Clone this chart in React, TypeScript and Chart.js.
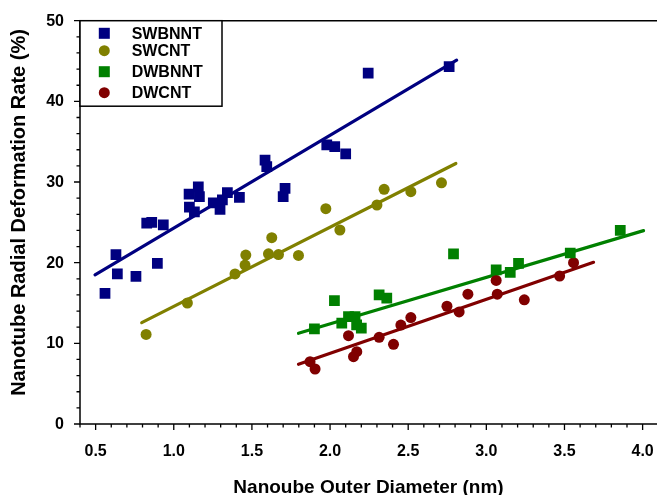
import React, { useEffect, useRef } from "react";
import { Chart, registerables } from "chart.js";

Chart.register(...registerables);

// ---- data ----
const seriesNames = ["SWBNNT", "SWCNT", "DWBNNT", "DWCNT"];
const seriesColors = ["#000080", "#808000", "#008000", "#800000"];
const seriesShapes = ["rect", "circle", "rect", "circle"];

const swbnntX = [0.56, 0.639, 0.63, 0.758, 0.895, 0.827, 0.859, 0.933, 1.098, 1.157, 1.164, 1.1, 1.132, 1.253, 1.296, 1.311, 1.343, 1.42, 1.584, 1.595, 1.712, 1.7, 1.979, 2.03, 2.1, 2.244, 2.762];
const swbnntY = [16.2, 18.6, 21.0, 18.3, 19.9, 24.9, 25.0, 24.7, 28.5, 29.4, 28.2, 26.9, 26.3, 27.4, 26.6, 27.8, 28.7, 28.1, 32.7, 31.9, 29.2, 28.2, 34.6, 34.4, 33.5, 43.5, 44.3];

const swcntX = [0.823, 1.087, 1.392, 1.456, 1.461, 1.606, 1.627, 1.67, 1.798, 1.973, 2.063, 2.3, 2.346, 2.517, 2.713];
const swcntY = [11.1, 15.0, 18.6, 19.7, 20.95, 21.1, 23.1, 21.0, 20.9, 26.7, 24.05, 27.15, 29.1, 28.8, 29.9];

const dwbnntX = [1.9, 2.028, 2.075, 2.118, 2.16, 2.17, 2.2, 2.314, 2.363, 2.79, 3.063, 3.153, 3.206, 3.537, 3.857];
const dwbnntY = [11.8, 15.3, 12.5, 13.3, 13.3, 12.3, 11.9, 16.0, 15.6, 21.1, 19.1, 18.8, 19.9, 21.2, 24.0];

const dwcntX = [1.872, 1.904, 2.118, 2.15, 2.171, 2.314, 2.406, 2.453, 2.517, 2.748, 2.826, 2.882, 3.063, 3.07, 3.243, 3.469, 3.558];
const dwcntY = [7.73, 6.82, 10.95, 8.35, 8.97, 10.75, 9.88, 12.27, 13.2, 14.6, 13.9, 16.1, 17.8, 16.1, 15.4, 18.35, 20.0];

// fitted trend lines (end points)
const fitX = [[0.496, 2.81], [0.795, 2.805], [1.798, 4.006], [1.798, 3.686]];
const fitY = [[18.5, 45.1], [12.56, 32.3], [11.24, 23.97], [7.4, 20.05]];

const xTitle = "Nanoube Outer Diameter (nm)";
const yTitle = "Nanotube Radial Deformation Rate (%)";
const xMin = 0.4, xMax = 4.092, xMinor = 0.1, xMajor = 0.5;
const yMin = 0, yMax = 50, yMinor = 2, yMajor = 10;

const FONT = "Liberation Sans, Arial, sans-serif";

const isMult = (v: number, step: number) => Math.abs(v / step - Math.round(v / step)) < 1e-6;

const framePlugin = {
  id: "frame",
  afterDraw(chart: any) {
    const { ctx, chartArea: a, scales } = chart;
    const xs = scales.x, ys = scales.y;
    ctx.save();
    ctx.strokeStyle = "#000";
    ctx.lineWidth = 1.5;
    ctx.beginPath();
    ctx.moveTo(a.left, a.top);
    ctx.lineTo(a.left, a.bottom);
    ctx.lineTo(a.right, a.bottom);
    ctx.moveTo(a.left, a.top);
    ctx.lineTo(a.right, a.top);
    ctx.stroke();

    ctx.lineWidth = 1.3;
    ctx.beginPath();
    xs.ticks.forEach((t: any) => {
      const px = xs.getPixelForValue(t.value);
      const len = isMult(t.value, xMajor) ? 6 : 3.5;
      ctx.moveTo(px, a.bottom);
      ctx.lineTo(px, a.bottom + len);
    });
    ys.ticks.forEach((t: any) => {
      const py = ys.getPixelForValue(t.value);
      const len = isMult(t.value, yMajor) ? 6 : 3.5;
      ctx.moveTo(a.left, py);
      ctx.lineTo(a.left - len, py);
    });
    ctx.stroke();

    // tick labels
    ctx.fillStyle = "#000";
    ctx.font = `bold 16px ${FONT}`;
    ctx.textBaseline = "middle";
    ctx.textAlign = "center";
    xs.ticks.forEach((t: any) => {
      if (isMult(t.value, xMajor)) ctx.fillText(t.value.toFixed(1), xs.getPixelForValue(t.value), 452);
    });
    ctx.textAlign = "right";
    ys.ticks.forEach((t: any) => {
      if (isMult(t.value, yMajor)) ctx.fillText(String(t.value), 64, ys.getPixelForValue(t.value) + 0.5);
    });

    // axis titles
    ctx.font = `bold 19px ${FONT}`;
    ctx.textAlign = "center";
    ctx.fillText(xTitle, (a.left + a.right) / 2, 488);
    ctx.save();
    ctx.font = `bold 20px ${FONT}`;
    ctx.translate(19, 212.5);
    ctx.rotate(-Math.PI / 2);
    ctx.fillText(yTitle, 0, 0);
    ctx.restore();

    // legend
    const bx = a.left, by = a.top, bw = 142, bh = 85.5;
    ctx.fillStyle = "#fff";
    ctx.fillRect(bx, by, bw, bh);
    ctx.strokeStyle = "#000";
    ctx.lineWidth = 1.5;
    ctx.strokeRect(bx, by, bw, bh);
    const rows = [33.3, 50.7, 71.7, 92.7];
    ctx.font = `bold 16px ${FONT}`;
    ctx.textAlign = "left";
    seriesNames.forEach((name, i) => {
      const y = rows[i];
      ctx.fillStyle = seriesColors[i];
      if (seriesShapes[i] === "rect") {
        ctx.fillRect(104.3 - 5.5, y - 5.5, 11, 11);
      } else {
        ctx.beginPath();
        ctx.arc(104.3, y, 5.5, 0, Math.PI * 2);
        ctx.fill();
      }
      ctx.fillStyle = "#000";
      ctx.fillText(name, 131.7, y + 1);
    });
    ctx.restore();
  },
};

export default function App() {
  const ref = useRef<HTMLCanvasElement | null>(null);
  useEffect(() => {
    if (!ref.current) return;
    const xsAll = [swbnntX, swcntX, dwbnntX, dwcntX];
    const ysAll = [swbnntY, swcntY, dwbnntY, dwcntY];
    const pointSets = seriesNames.map((name, i) => ({
      type: "scatter" as const,
      label: name,
      data: xsAll[i].map((x, k) => ({ x, y: ysAll[i][k] })),
      backgroundColor: seriesColors[i],
      borderColor: seriesColors[i],
      borderWidth: 0,
      pointStyle: seriesShapes[i],
      pointRadius: seriesShapes[i] === "rect" ? 7.6 : 5.5,
      pointHoverRadius: seriesShapes[i] === "rect" ? 7.6 : 5.5,
    }));
    const lineSets = seriesNames.map((name, i) => ({
      type: "line" as const,
      label: name + " fit",
      data: fitX[i].map((x, k) => ({ x, y: fitY[i][k] })),
      borderColor: seriesColors[i],
      backgroundColor: seriesColors[i],
      borderWidth: 3.2,
      borderCapStyle: "round",
      pointRadius: 0,
      fill: false,
    }));
    const chart = new Chart(ref.current, {
      type: "scatter",
      data: { datasets: [...pointSets, ...lineSets] as any },
      options: {
        animation: false,
        responsive: false,
        maintainAspectRatio: false,
        layout: { autoPadding: false, padding: { left: 0, right: 0, top: 20.7, bottom: 0 } },
        plugins: { legend: { display: false }, tooltip: { enabled: false } },
        scales: {
          x: {
            type: "linear",
            min: xMin,
            max: xMax,
            afterFit: (s: any) => { s.height = 71; s.paddingLeft = 0; s.paddingRight = 0; },
            border: { display: false },
            grid: { display: false, drawTicks: false },
            ticks: { display: false, stepSize: xMinor, autoSkip: false, includeBounds: false },
          },
          y: {
            type: "linear",
            min: yMin,
            max: yMax,
            afterFit: (s: any) => { s.width = 80; s.paddingTop = 0; s.paddingBottom = 0; },
            border: { display: false },
            grid: { display: false, drawTicks: false },
            ticks: { display: false, stepSize: yMinor, autoSkip: false },
          },
        },
      } as any,
      plugins: [framePlugin],
    });
    return () => chart.destroy();
  }, []);
  return (
    <div style={{ position: "absolute", left: 0, top: 0, width: 657, height: 495, background: "#fff" }}>
      <canvas ref={ref} width={657} height={495} />
    </div>
  );
}
